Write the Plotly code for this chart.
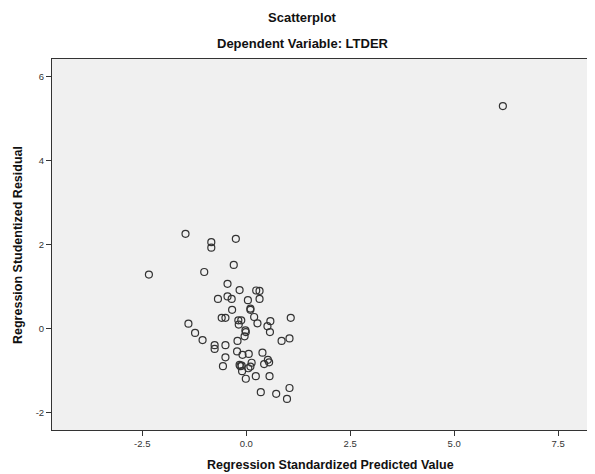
import plotly.graph_objects as go

# Regression Standardized Predicted Value
pred = [6.17, -2.34, -1.46, -0.84, -0.84, -0.25, -0.30, -1.01, -0.45, -0.16,
        0.24, 0.32, -0.68, -0.45, -0.35, 0.04, 0.32, -0.34, 0.10, 0.10,
        -0.59, -0.50, -0.19, -0.12, 0.19, 0.58, 1.07, -1.39, -0.18, 0.27,
        0.51, 0.57, -1.23, -0.02, -0.01, -0.04, -1.05, -0.76, -0.76, -0.50,
        -0.21, 0.85, 1.04, -0.22, -0.09, 0.06, 0.39, -0.50, 0.52, 0.55,
        0.43, 0.13, -0.16, -0.14, -0.11, -0.56, 0.05, 0.10, -0.10, 0.23,
        0.56, -0.01, 0.35, 0.72, 1.04, 0.98]
# Regression Studentized Residual
resid = [5.29, 1.28, 2.25, 2.05, 1.92, 2.13, 1.51, 1.34, 1.06, 0.91,
         0.90, 0.89, 0.70, 0.76, 0.70, 0.67, 0.70, 0.44, 0.47, 0.44,
         0.25, 0.25, 0.19, 0.19, 0.27, 0.17, 0.25, 0.11, 0.09, 0.12,
         0.05, -0.09, -0.11, -0.05, -0.09, -0.19, -0.28, -0.40, -0.49, -0.40,
         -0.30, -0.30, -0.24, -0.55, -0.63, -0.61, -0.58, -0.69, -0.75, -0.81,
         -0.85, -0.82, -0.87, -0.90, -0.89, -0.90, -0.95, -0.91, -1.02, -1.14,
         -1.14, -1.20, -1.52, -1.56, -1.42, -1.68]

x_ticks = [-2.5, 0.0, 2.5, 5.0, 7.5]
x_tick_labels = ["-2.5", "0.0", "2.5", "5.0", "7.5"]
y_ticks = [-2, 0, 2, 4, 6]
y_tick_labels = ["-2", "0", "2", "4", "6"]

title_main = "Scatterplot"
title_sub = "Dependent Variable: LTDER"
x_title = "Regression Standardized Predicted Value"
y_title = "Regression Studentized Residual"

font = "Liberation Sans, Arial, sans-serif"
title_font = dict(size=13, family=font, color="#111111")
axis_title_font = dict(size=12.5, family=font, color="#111111")

fig = go.Figure(go.Scatter(
    x=pred, y=resid, mode="markers",
    marker=dict(symbol="circle-open", size=7, color="#333333",
                line=dict(width=1.2, color="#333333")),
    hoverinfo="x+y", showlegend=False,
))

fig.update_layout(
    width=587, height=466,
    margin=dict(l=44, r=0, t=51, b=44),
    paper_bgcolor="white",
    plot_bgcolor="#f0f0f0",
    font=dict(family=font, color="#222222"),
    annotations=[
        dict(text="<b>%s</b>" % title_main, x=0.462, y=1.113, xref="paper", yref="paper",
             xanchor="center", yanchor="middle", showarrow=False, font=title_font),
        dict(text="<b>%s</b>" % title_sub, x=0.462, y=1.043, xref="paper", yref="paper",
             xanchor="center", yanchor="middle", showarrow=False, font=title_font),
        dict(text="<b>%s</b>" % x_title, x=0.512, y=-0.094, xref="paper", yref="paper",
             xanchor="center", yanchor="middle", showarrow=False, font=axis_title_font),
        dict(text="<b>%s</b>" % y_title, x=-0.0626, y=0.4987, xref="paper", yref="paper",
             xanchor="center", yanchor="middle", showarrow=False, textangle=-90,
             font=axis_title_font),
    ],
    xaxis=dict(
        range=[-4.67, 8.385], tickvals=x_ticks, ticktext=x_tick_labels,
        showgrid=False, zeroline=False,
        showline=True, linecolor="#333333", linewidth=1, mirror=True,
        ticks="outside", ticklen=5, tickcolor="#333333",
        tickfont=dict(size=9.5, color="#333333"),
    ),
    yaxis=dict(
        range=[-2.42, 6.41], tickvals=y_ticks, ticktext=y_tick_labels,
        showgrid=False, zeroline=False,
        showline=True, linecolor="#333333", linewidth=1, mirror=False,
        ticks="outside", ticklen=5, tickcolor="#333333",
        tickfont=dict(size=9.5, color="#333333"),
    ),
)

fig.write_html("out.html")
